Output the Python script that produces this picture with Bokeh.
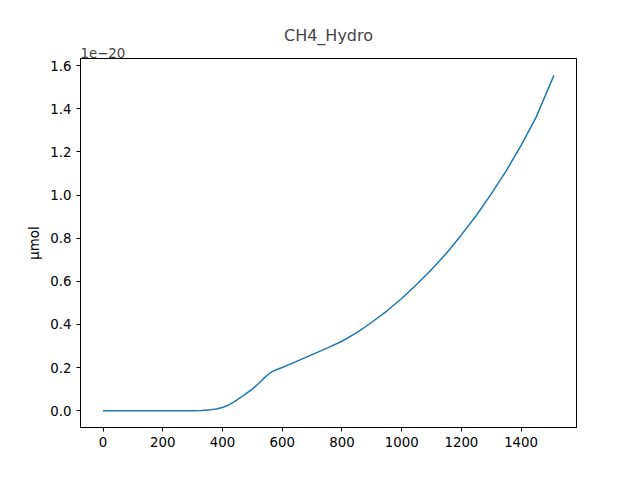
from bokeh.plotting import figure
from bokeh.embed import file_html
from bokeh.resources import INLINE
from bokeh.models import Range1d, Title, FixedTicker, CustomJSTickFormatter

x_vals = [0, 100, 200, 300, 330, 360, 380, 400, 420, 440, 460, 480, 500, 520, 540, 555, 565, 580, 600, 650, 700, 750, 800, 850, 900, 950, 1000, 1050, 1100, 1150, 1200, 1250, 1300, 1350, 1400, 1450, 1510]
y_vals = [0, 0, 0, 0, 0.001, 0.004, 0.008, 0.015, 0.026, 0.042, 0.06, 0.08, 0.1, 0.125, 0.152, 0.17, 0.18, 0.19, 0.2, 0.23, 0.26, 0.29, 0.322, 0.362, 0.41, 0.462, 0.52, 0.585, 0.655, 0.73, 0.815, 0.905, 1.005, 1.112, 1.23, 1.36, 1.555]
x_ticks = [0, 200, 400, 600, 800, 1000, 1200, 1400]
y_ticks = [0.0, 0.2, 0.4, 0.6, 0.8, 1.0, 1.2, 1.4, 1.6]

p = figure(width=624, height=464, output_backend="svg", toolbar_location=None,
           frame_width=496, frame_height=369, min_border_left=80, min_border_right=48,
           min_border_top=58, min_border_bottom=37,
           x_range=Range1d(-75.5, 1585.5), y_range=Range1d(-0.078, 1.633))
p.add_layout(Title(text="1e\u221220", align="left", text_font="DejaVu Sans",
                   text_font_size="10pt", text_font_style="normal", standoff=2), "above")
p.add_layout(Title(text="CH4_Hydro", align="center", text_font="DejaVu Sans",
                   text_font_size="12pt", text_font_style="normal", standoff=0), "above")
p.line(x_vals, y_vals, line_color="#1f77b4", line_width=1.5)
p.xgrid.visible = False
p.ygrid.visible = False
p.outline_line_color = "black"
p.xaxis.ticker = FixedTicker(ticks=x_ticks)
p.yaxis.ticker = FixedTicker(ticks=y_ticks)
p.yaxis.formatter = CustomJSTickFormatter(code="return tick.toFixed(1);")
p.yaxis.axis_label = "µmol"
for ax in (p.xaxis[0], p.yaxis[0]):
    ax.major_label_text_font = "DejaVu Sans"
    ax.major_label_text_font_size = "10pt"
    ax.major_label_text_color = "black"
    ax.minor_tick_line_color = None
    ax.major_tick_in = 0
    ax.major_tick_out = 4
    ax.axis_line_color = "black"
p.yaxis.axis_label_text_font = "DejaVu Sans"
p.yaxis.axis_label_text_font_size = "10pt"
p.yaxis.axis_label_text_font_style = "normal"
p.yaxis.axis_label_text_color = "black"
open("out.html", "w").write(file_html(p, INLINE))
